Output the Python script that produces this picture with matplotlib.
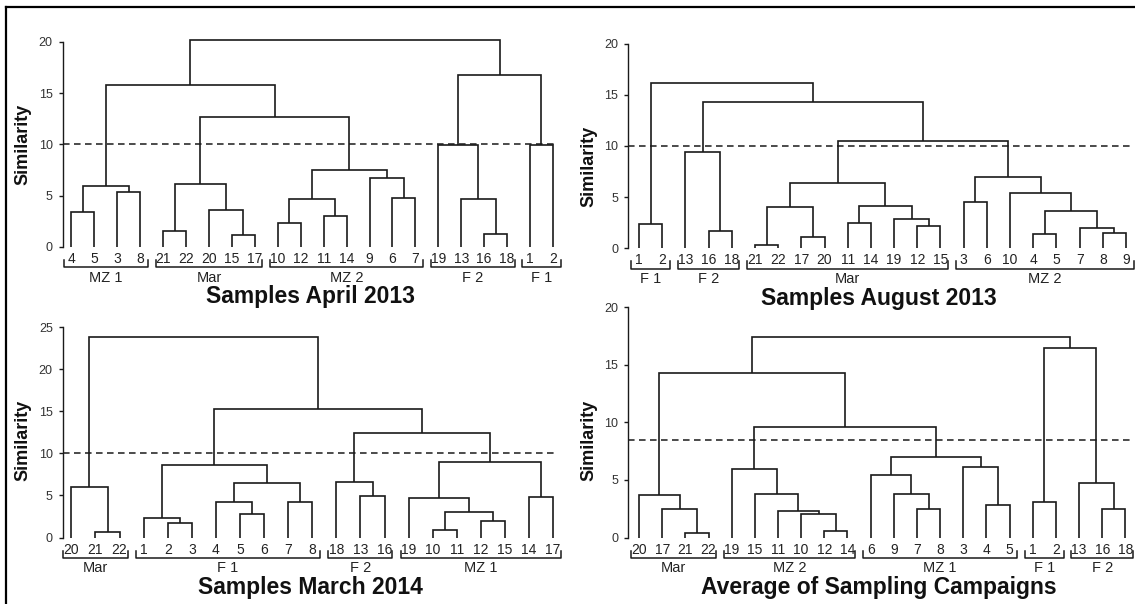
import matplotlib
matplotlib.use('Agg')
import matplotlib.pyplot as plt
from matplotlib.lines import Line2D
from matplotlib import transforms

plt.rcParams['font.family'] = ['Liberation Sans', 'DejaVu Sans']

# each node: (left, right, merge height); leaves are sample numbers
apr13_tree = (
    ((('4', '5', 3.4), ('3', '8', 5.35), 5.9),
     ((('21', '22', 1.5), ('20', ('15', '17', 1.1), 3.6), 6.15),
      ((('10', '12', 2.35), ('11', '14', 3.0), 4.7), ('9', ('6', '7', 4.8), 6.7), 7.5),
      12.7),
     15.8),
    (('19', ('13', ('16', '18', 1.2), 4.7), 9.9), ('1', '2', 9.95), 16.75),
    20.2)
apr13_groups = ['MZ 1', 'Mar', 'MZ 2', 'F 2', 'F 1']
apr13_sizes = [4, 5, 7, 4, 2]

aug13_tree = (
    ('1', '2', 2.35),
    (('13', ('16', '18', 1.7), 9.45),
     (((('21', '22', 0.3), ('17', '20', 1.15), 4.0),
       (('11', '14', 2.5), ('19', ('12', '15', 2.2), 2.9), 4.15), 6.35),
      (('3', '6', 4.5),
       ('10', (('4', '5', 1.35), ('7', ('8', '9', 1.45), 1.95), 3.65), 5.4), 7.0),
      10.5),
     14.3),
    16.15)
aug13_groups = ['F 1', 'F 2', 'Mar', 'MZ 2']
aug13_sizes = [2, 3, 9, 8]

mar14_tree = (
    ('20', ('21', '22', 0.65), 6.0),
    (((('1', ('2', '3', 1.7), 2.3),
       (('4', ('5', '6', 2.85), 4.2), ('7', '8', 4.2), 6.45), 8.65)),
     (('18', ('13', '16', 4.95), 6.55),
      (('19', (('10', '11', 0.95), ('12', '15', 2.0), 3.0), 4.7), ('14', '17', 4.8), 8.95),
      12.4),
     15.25),
    23.8)
mar14_groups = ['Mar', 'F 1', 'F 2', 'MZ 1']
mar14_sizes = [3, 8, 3, 7]

avg_tree = (
    (('20', ('17', ('21', '22', 0.4), 2.5), 3.65),
     (('19', ('15', ('11', ('10', ('12', '14', 0.55), 2.0), 2.3), 3.75), 5.95),
      (('6', ('9', ('7', '8', 2.5), 3.8), 5.4), ('3', ('4', '5', 2.8), 6.1), 6.95),
      9.6),
     14.3),
    (('1', '2', 3.05), ('13', ('16', '18', 2.45), 4.7), 16.4),
    17.4)
avg_groups = ['Mar', 'MZ 2', 'MZ 1', 'F 1', 'F 2']
avg_sizes = [4, 6, 7, 2, 3]

titles = ['Samples April 2013', 'Samples August 2013',
          'Samples March 2014', 'Average of Sampling Campaigns']
cut_levels = [10, 10, 10, 8.5]
y_max = [20, 20, 25, 20]

W, H = 1135, 604
fig = plt.figure(figsize=(W / 100, H / 100), dpi=100)

# axes boxes in pixels: spine x, right end, y of 0, y of top tick; x limits in leaf units
boxes = [(62.7, 558, 246.7, 42.0, -0.38, 21.22),
         (628.3, 1130, 248.3, 43.5, -0.46, 21.17),
         (62.7, 558, 537.5, 327.3, -0.36, 20.2),
         (628.3, 1130, 537.5, 307.0, -0.465, 21.2)]
ylabel_pos = [(23.3, 144), (589, 166.5), (23.3, 440.3), (589, 440.7)]

LC = '#1a1a1a'


def leaf_order(node):
    if isinstance(node, str):
        return [node]
    return leaf_order(node[0]) + leaf_order(node[1])


def draw_node(ax, node, pos):
    if isinstance(node, str):
        return pos[node], 0.0
    xa, ha = draw_node(ax, node[0], pos)
    xb, hb = draw_node(ax, node[1], pos)
    h = node[2]
    ax.plot([xa, xa, xb, xb], [ha, h, h, hb], color=LC, lw=1.2,
            clip_on=False, solid_joinstyle='miter', solid_capstyle='butt')
    return (xa + xb) / 2, h


panels = [(apr13_tree, apr13_groups, apr13_sizes),
          (aug13_tree, aug13_groups, aug13_sizes),
          (mar14_tree, mar14_groups, mar14_sizes),
          (avg_tree, avg_groups, avg_sizes)]

for i, (tree, groups, sizes) in enumerate(panels):
    sx, ex, y0, ytop, xl, xr = boxes[i]
    ax = fig.add_axes([sx / W, 1 - y0 / H, (ex - sx) / W, (y0 - ytop) / H])
    hp = y0 - ytop
    ax.set_xlim(xl, xr)
    ax.set_ylim(0, y_max[i])

    leaves = leaf_order(tree)
    pos = {lab: k for k, lab in enumerate(leaves)}
    draw_node(ax, tree, pos)

    # cut level
    ax.axhline(cut_levels[i], color=LC, lw=1.1, dashes=(4.3, 2.9))

    # axis styling
    for s in ['top', 'right', 'bottom']:
        ax.spines[s].set_visible(False)
    ax.spines['left'].set_bounds(0, y_max[i])
    ax.spines['left'].set_linewidth(1.0)
    ax.spines['left'].set_color(LC)
    ax.set_yticks(range(0, y_max[i] + 1, 5))
    ax.tick_params(axis='y', length=3.2, width=1.0, pad=4, labelsize=9,
                   labelcolor='#333333', color=LC)
    ax.set_xticks([])
    ax.patch.set_alpha(0)

    # sample numbers under the leaves
    for lab, k in pos.items():
        ax.annotate(lab, xy=(k, 0), xytext=(0, -12), textcoords='offset pixels',
                    ha='center', va='center', fontsize=10, color='#222222')

    # brackets with group names
    blend = transforms.blended_transform_factory(ax.transData, ax.transAxes)
    start = 0
    for name, n in zip(groups, sizes):
        x1, x2 = start - 0.33, start + n - 1 + 0.33
        ax.plot([x1, x1, x2, x2], [-13 / hp, -20.5 / hp, -20.5 / hp, -13 / hp],
                transform=blend, color=LC, lw=1.1, clip_on=False)
        ax.annotate(name, xy=((x1 + x2) / 2, 0), xytext=(0, -31),
                    textcoords='offset pixels', ha='center', va='center',
                    fontsize=10.5, color='#222222')
        start += n

    ax.annotate(titles[i], xy=(0.5, 0), xycoords='axes fraction', xytext=(0, -50),
                textcoords='offset pixels', ha='center', va='center',
                fontsize=16.5, fontweight='bold', color='#111111')

    lx, ly = ylabel_pos[i]
    fig.text(lx / W, 1 - ly / H, 'Similarity', rotation=90, ha='center', va='center',
             fontsize=13, fontweight='bold', color='#111111')

# frame lines along the top and left edge
fig.add_artist(Line2D([6 / W, 1], [1 - 6.5 / H, 1 - 6.5 / H], color='k', lw=1.6))
fig.add_artist(Line2D([6 / W, 6 / W], [0, 1 - 6.5 / H], color='k', lw=1.6))

fig.savefig('out.png', dpi=100)
